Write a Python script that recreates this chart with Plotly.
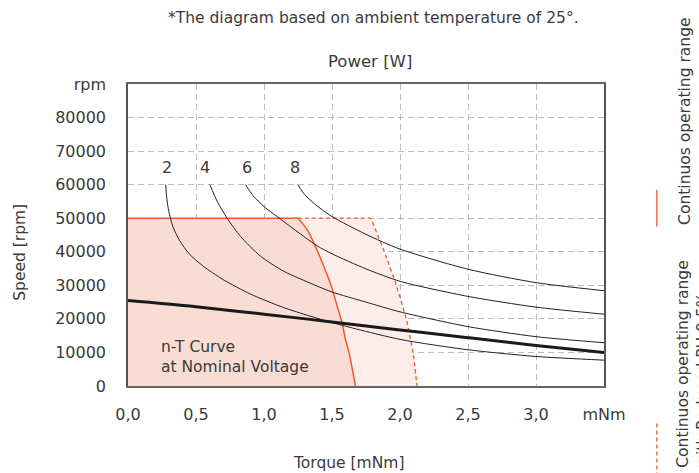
import plotly.graph_objects as go

# ---------------- data ----------------
x_tick_vals = [0, 0.5, 1.0, 1.5, 2.0, 2.5, 3.0, 3.5]
x_tick_text = ["0,0", "0,5", "1,0", "1,5", "2,0", "2,5", "3,0", "mNm"]
y_tick_vals = [0, 10000, 20000, 30000, 40000, 50000, 60000, 70000, 80000, 90000]
y_tick_text = ["0", "10000", "20000", "30000", "40000", "50000", "60000", "70000", "80000", "rpm"]

# n-T curve at nominal voltage
nominal_torque = [0, 0.5, 1.0, 1.5, 2.0, 2.5, 3.0, 3.5]
nominal_speed = [25450, 23600, 21400, 19100, 16700, 14400, 12100, 9950]

# constant power curves (labels 2, 4, 6, 8 W)
power_labels = ["2", "4", "6", "8"]
p2_torque = [0.277, 0.285, 0.30, 0.33, 0.38, 0.45, 0.55, 0.70, 0.90, 1.15, 1.5, 2.0, 2.5, 3.0, 3.5]
p2_speed = [60000, 56000, 52000, 47500, 43300, 39400, 35800, 31700, 27400, 23300, 18900, 13900, 10800, 8800, 7700]
p4_torque = [0.602, 0.656, 0.729, 0.827, 0.974, 1.145, 1.366, 1.5, 1.75, 2.0, 2.5, 3.0, 3.5]
p4_speed = [60000, 55000, 50000, 44600, 38700, 34200, 30200, 28000, 25000, 22100, 17700, 14700, 12900]
p6_torque = [0.864, 0.92, 1.0, 1.145, 1.39, 1.5, 1.75, 2.0, 2.5, 3.0, 3.5]
p6_speed = [60000, 56700, 53500, 49000, 41800, 39400, 34900, 31200, 26700, 23500, 21400]
p8_torque = [1.248, 1.3, 1.38, 1.5, 1.75, 2.0, 2.5, 3.0, 3.5]
p8_speed = [60000, 57000, 54000, 50500, 45200, 40800, 34800, 30800, 28400]

# continuous operating range (solid boundary)
cont_torque = [0, 1.2, 1.248, 1.317, 1.378, 1.439, 1.493, 1.537, 1.574, 1.598, 1.625, 1.672]
cont_speed = [50000, 50000, 50000, 46600, 41600, 35700, 30000, 23900, 18900, 14000, 10000, 0]
# continuous operating range with reduction (dashed boundary)
red_torque = [1.248, 1.73, 1.782, 1.835, 1.885, 1.973, 2.046, 2.096, 2.125]
red_speed = [50000, 50000, 50000, 45000, 40000, 30000, 20000, 10000, 0]

# ---------------- style ----------------
ORANGE = "#EE5A2A"
DARK_FILL = "#F9DDD4"
LIGHT_FILL = "#FDEDE9"
TXT = "#3a3a3a"
FONT = "DejaVu Sans"
label_dx = [0.007, -0.035, 0.012, -0.02]   # label offsets from curve starts (layout)

fig = go.Figure()

# light fill (reduced range)
fig.add_trace(go.Scatter(
    x=[0] + red_torque[1:] + [0], y=[red_speed[0]] + red_speed[1:] + [0],
    fill="toself", fillcolor=LIGHT_FILL, mode="lines",
    line=dict(width=0, shape="spline", smoothing=0.5),
    hoverinfo="skip", showlegend=False))
# dark fill (continuous range)
fig.add_trace(go.Scatter(
    x=cont_torque + [0], y=cont_speed + [0],
    fill="toself", fillcolor=DARK_FILL, mode="lines",
    line=dict(width=0, shape="spline", smoothing=0.5),
    hoverinfo="skip", showlegend=False))

# boundaries
fig.add_trace(go.Scatter(x=red_torque, y=red_speed, mode="lines",
                         line=dict(color=ORANGE, width=1.3, dash="4px,3px", shape="spline", smoothing=0.5),
                         hoverinfo="skip", showlegend=False))
fig.add_trace(go.Scatter(x=cont_torque, y=cont_speed, mode="lines",
                         line=dict(color=ORANGE, width=1.5, shape="spline", smoothing=0.5),
                         hoverinfo="skip", showlegend=False))

# power curves
curves = [(p2_torque, p2_speed), (p4_torque, p4_speed), (p6_torque, p6_speed), (p8_torque, p8_speed)]
for tq, sp in curves:
    fig.add_trace(go.Scatter(x=tq, y=sp, mode="lines",
                             line=dict(color="#222222", width=1, shape="spline", smoothing=0.7),
                             hoverinfo="skip", showlegend=False))

# nominal curve
fig.add_trace(go.Scatter(x=nominal_torque, y=nominal_speed, mode="lines",
                         line=dict(color="#1a1a1a", width=3, shape="spline"),
                         hoverinfo="skip", showlegend=False))

annotations = []
for lab, (tq, sp), dx in zip(power_labels, curves, label_dx):
    annotations.append(dict(x=tq[0] + dx, y=sp[0] + 5000, xref="x", yref="y", text=lab, showarrow=False,
                            font=dict(size=16, color=TXT, family=FONT)))

annotations += [
    dict(x=0.225, y=8600, xref="x", yref="y", text="n-T Curve<br>at Nominal Voltage", showarrow=False,
         xanchor="left", yanchor="middle", align="left", font=dict(size=15.5, color=TXT, family=FONT)),
    dict(x=0.515, y=1.218, xref="paper", yref="paper", text="*The diagram based on ambient temperature of 25°.",
         showarrow=False, xanchor="center", yanchor="middle", font=dict(size=15.5, color=TXT, family=FONT)),
    dict(x=0.509, y=1.076, xref="paper", yref="paper", text="Power [W]", showarrow=False,
         xanchor="center", yanchor="middle", font=dict(size=16.5, color=TXT, family=FONT)),
    dict(x=0.4625, y=-0.2537, xref="paper", yref="paper", text="Torque [mNm]", showarrow=False,
         xanchor="center", yanchor="middle", font=dict(size=15.5, color=TXT, family=FONT)),
    dict(x=-0.226, y=0.4426, xref="paper", yref="paper", text="Speed [rpm]", showarrow=False, textangle=-90,
         xanchor="center", yanchor="middle", font=dict(size=15.5, color=TXT, family=FONT)),
    dict(x=1.170, y=0.8776, xref="paper", yref="paper", text="Continuos operating range", showarrow=False,
         textangle=-90, xanchor="center", yanchor="middle", font=dict(size=15.5, color=TXT, family=FONT)),
    dict(x=1.187, y=0.0705, xref="paper", yref="paper",
         text="Continuos operating range<br>with Reduced PH 0.5%", showarrow=False, align="left",
         textangle=-90, xanchor="center", yanchor="middle", font=dict(size=15.5, color=TXT, family=FONT)),
]

shapes = [
    dict(type="line", xref="paper", yref="paper", x0=1.111, x1=1.111, y0=0.527, y1=0.650,
         line=dict(color=ORANGE, width=1.3)),
    dict(type="line", xref="paper", yref="paper", x0=1.111, x1=1.111, y0=-0.30, y1=-0.121,
         line=dict(color=ORANGE, width=1.3, dash="4px,3px")),
]

fig.update_layout(
    width=699, height=473,
    margin=dict(l=128, r=95, t=84, b=87),
    paper_bgcolor="white", plot_bgcolor="white",
    font=dict(family=FONT, color=TXT, size=15),
    annotations=annotations, shapes=shapes,
    showlegend=False,
)
fig.update_xaxes(range=[0, 3.5], tickvals=x_tick_vals, ticktext=x_tick_text,
                 showgrid=True, gridcolor="#bbbbbb", griddash="6px,4px", gridwidth=1,
                 showline=True, linecolor="#666666", linewidth=1.5, mirror=True,
                 ticks="", ticklabelstandoff=13, zeroline=False,
                 tickfont=dict(size=16, color=TXT, family=FONT))
fig.update_yaxes(range=[0, 90000], tickvals=y_tick_vals, ticktext=y_tick_text,
                 showgrid=True, gridcolor="#bbbbbb", griddash="6px,4px", gridwidth=1,
                 showline=True, linecolor="#555555", linewidth=1.5, mirror=True,
                 ticks="", ticklabelstandoff=17, zeroline=False,
                 tickfont=dict(size=16, color=TXT, family=FONT))

fig.write_html("out.html")
